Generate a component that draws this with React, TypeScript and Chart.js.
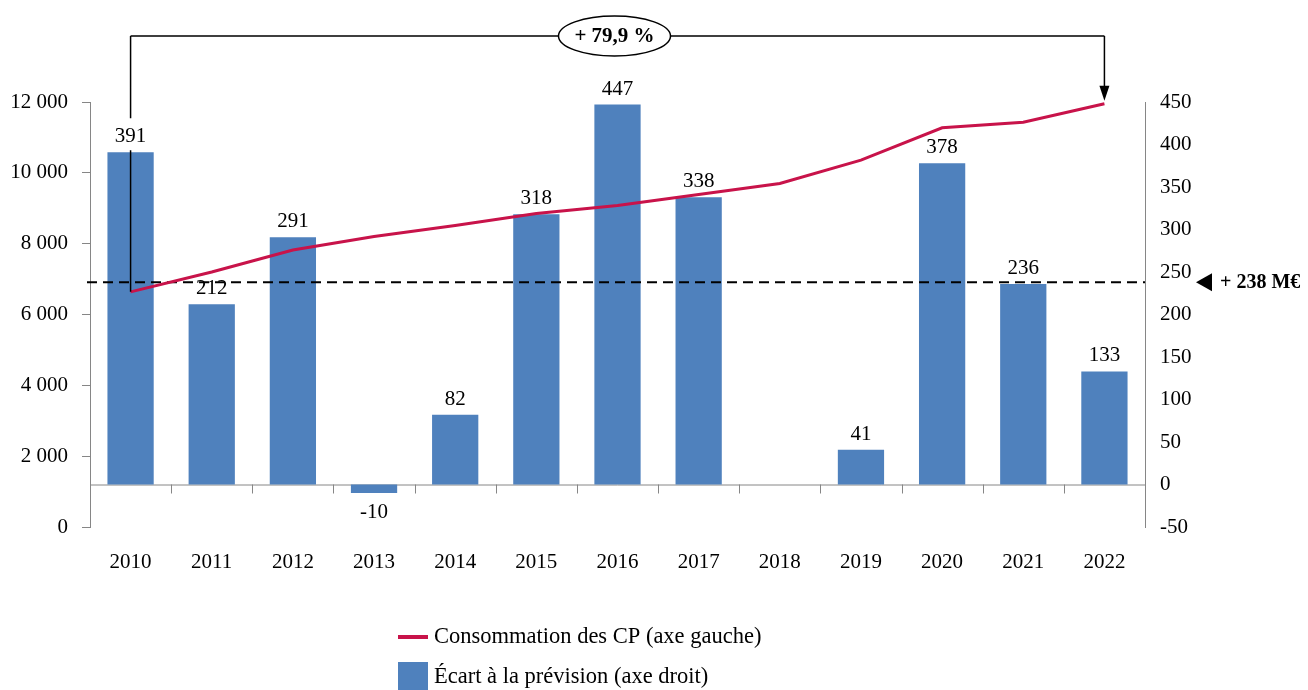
import { useEffect, useRef } from 'react';
import { Chart, registerables } from 'chart.js';

Chart.register(...registerables);

const FONT = "'Liberation Serif', 'Times New Roman', serif";

const years = ['2010', '2011', '2012', '2013', '2014', '2015', '2016', '2017', '2018', '2019', '2020', '2021', '2022'];
const consumption = [6640, 7200, 7820, 8200, 8510, 8850, 9080, 9390, 9700, 10360, 11270, 11430, 11950];
const forecastGap: (number | null)[] = [391, 212, 291, -10, 82, 318, 447, 338, null, 41, 378, 236, 133];
const averageGap = 238;
const averageLabel = '+ 238 M€';
const growthLabel = '+ 79,9 %';
const lineLabel = 'Consommation des CP (axe gauche)';
const barLabel = 'Écart à la prévision (axe droit)';

const RED = '#C8134A';
const BLUE = '#4F81BD';

const fmtThousands = (v: number) => {
  const s = Math.abs(v).toString().replace(/\B(?=(\d{3})+(?!\d))/g, ' ');
  return (v < 0 ? '-' : '') + s;
};

const annotationPlugin = {
  id: 'annot',
  beforeDatasetsDraw(chart: any) {
    const { ctx, chartArea: a } = chart;
    const yR = chart.scales.yR;
    const y0 = yR.getPixelForValue(0);
    const n = years.length;
    ctx.save();
    ctx.strokeStyle = '#868686';
    ctx.lineWidth = 1;
    ctx.beginPath();
    ctx.moveTo(a.left, y0 + 0.5);
    ctx.lineTo(a.right, y0 + 0.5);
    for (let i = 0; i <= n; i++) {
      const xb = Math.round(a.left + (i * a.width) / n) + 0.5;
      ctx.moveTo(xb, y0);
      ctx.lineTo(xb, y0 + 9);
    }
    ctx.stroke();
    ctx.restore();
  },
  beforeDatasetDraw(chart: any, args: any) {
    if (args.index !== 0) return;
    const { ctx, chartArea: a } = chart;
    const yd = chart.scales.yR.getPixelForValue(averageGap);
    ctx.save();
    ctx.strokeStyle = '#000';
    ctx.lineWidth = 2;
    ctx.setLineDash([10, 6]);
    ctx.beginPath();
    ctx.moveTo(a.left - 3, yd);
    ctx.lineTo(a.right, yd);
    ctx.stroke();
    ctx.restore();
  },
  afterDatasetsDraw(chart: any) {
    const { ctx } = chart;
    const meta = chart.getDatasetMeta(1);
    ctx.save();
    ctx.font = `21px ${FONT}`;
    ctx.fillStyle = '#000';
    ctx.textAlign = 'center';
    meta.data.forEach((el: any, i: number) => {
      const v = forecastGap[i];
      if (v === null || v === undefined) return;
      if (v >= 0) {
        ctx.textBaseline = 'bottom';
        ctx.fillText(String(v), el.x, el.y - 5);
      } else {
        ctx.textBaseline = 'top';
        ctx.fillText(String(v), el.x, el.y + 9);
      }
    });
    ctx.restore();
  },
  afterDraw(chart: any) {
    const { ctx, chartArea: a } = chart;
    const xs = chart.scales.x;
    const yL = chart.scales.yL;
    const yR = chart.scales.yR;
    const x0 = xs.getPixelForValue(0);
    const xN = xs.getPixelForValue(years.length - 1);
    const yTop = 36;
    const p0 = yL.getPixelForValue(consumption[0]);
    const pN = yL.getPixelForValue(consumption[consumption.length - 1]);
    const barTop0 = yR.getPixelForValue(forecastGap[0] as number);

    ctx.save();
    ctx.strokeStyle = '#000';
    ctx.fillStyle = '#000';
    ctx.lineWidth = 1.5;
    ctx.beginPath();
    ctx.moveTo(x0, yTop);
    ctx.lineTo(xN, yTop);
    ctx.moveTo(x0, yTop);
    ctx.lineTo(x0, barTop0 - 34);
    ctx.moveTo(x0, barTop0 - 2);
    ctx.lineTo(x0, p0);
    ctx.moveTo(xN, yTop);
    ctx.lineTo(xN, pN - 16);
    ctx.stroke();
    // arrow head
    ctx.beginPath();
    ctx.moveTo(xN, pN - 3);
    ctx.lineTo(xN - 5, pN - 18);
    ctx.lineTo(xN + 5, pN - 18);
    ctx.closePath();
    ctx.fill();

    // ellipse
    const ex = (x0 + xN) / 2 - 3;
    ctx.beginPath();
    ctx.ellipse(ex, yTop, 56, 20, 0, 0, Math.PI * 2);
    ctx.fillStyle = '#fff';
    ctx.fill();
    ctx.lineWidth = 1.5;
    ctx.stroke();
    ctx.fillStyle = '#000';
    ctx.font = `bold 21px ${FONT}`;
    ctx.textAlign = 'center';
    ctx.textBaseline = 'middle';
    ctx.fillText(growthLabel, ex, yTop + 1);

    // average marker on the right
    const yd = yR.getPixelForValue(averageGap);
    ctx.beginPath();
    ctx.moveTo(a.right + 51, yd);
    ctx.lineTo(a.right + 67, yd - 9);
    ctx.lineTo(a.right + 67, yd + 9);
    ctx.closePath();
    ctx.fill();
    ctx.font = `bold 20px ${FONT}`;
    ctx.textAlign = 'left';
    ctx.fillText(averageLabel, a.right + 75, yd + 1);

    // legend
    ctx.font = `22.5px ${FONT}`;
    ctx.strokeStyle = RED;
    ctx.lineWidth = 4;
    ctx.beginPath();
    ctx.moveTo(398, 637);
    ctx.lineTo(428, 637);
    ctx.stroke();
    ctx.fillText(lineLabel, 434, 637);
    ctx.fillStyle = BLUE;
    ctx.fillRect(398, 662, 30, 30);
    ctx.fillStyle = '#000';
    ctx.fillText(barLabel, 434, 677);
    ctx.restore();
  },
};

export default function App() {
  const ref = useRef<HTMLCanvasElement>(null);
  useEffect(() => {
    if (!ref.current) return;
    const chart = new Chart(ref.current, {
      type: 'bar',
      data: {
        labels: years,
        datasets: [
          {
            type: 'line',
            label: lineLabel,
            data: consumption,
            yAxisID: 'yL',
            borderColor: RED,
            backgroundColor: RED,
            borderWidth: 3,
            pointRadius: 0,
            tension: 0,
            order: 1,
          } as any,
          {
            type: 'bar',
            label: barLabel,
            data: forecastGap,
            yAxisID: 'yR',
            backgroundColor: BLUE,
            borderWidth: 0,
            barPercentage: 0.57,
            categoryPercentage: 1,
            order: 2,
          },
        ],
      },
      options: {
        responsive: false,
        animation: false,
        layout: { padding: { top: 102, left: 0, right: 0, bottom: 0 } },
        plugins: { legend: { display: false }, tooltip: { enabled: false } },
        scales: {
          x: {
            position: 'bottom',
            grid: { display: false },
            border: { display: false },
            ticks: { font: { family: FONT, size: 21 }, color: '#000', padding: 15, maxRotation: 0 },
            afterFit: (s: any) => { s.height = 163; },
          },
          yL: {
            position: 'left',
            min: 0,
            max: 12000,
            ticks: {
              stepSize: 2000,
              font: { family: FONT, size: 21 },
              color: '#000',
              padding: 14,
              callback: (v: any) => fmtThousands(Number(v)),
            },
            grid: { drawOnChartArea: false, drawTicks: true, tickLength: 8, color: '#868686' },
            border: { display: true, color: '#868686' },
            afterFit: (s: any) => { s.width = 90; },
          },
          yR: {
            position: 'right',
            min: -50,
            max: 450,
            ticks: { stepSize: 50, font: { family: FONT, size: 21 }, color: '#000', padding: 7 },
            grid: { display: false },
            border: { display: true, color: '#868686' },
            afterFit: (s: any) => { s.width = 163; },
          },
        },
      },
      plugins: [annotationPlugin],
    });
    return () => chart.destroy();
  }, []);
  return (
    <div style={{ position: 'fixed', left: 0, top: 0, width: 1308, height: 690, background: '#fff' }}>
      <canvas ref={ref} width={1308} height={690} />
    </div>
  );
}
